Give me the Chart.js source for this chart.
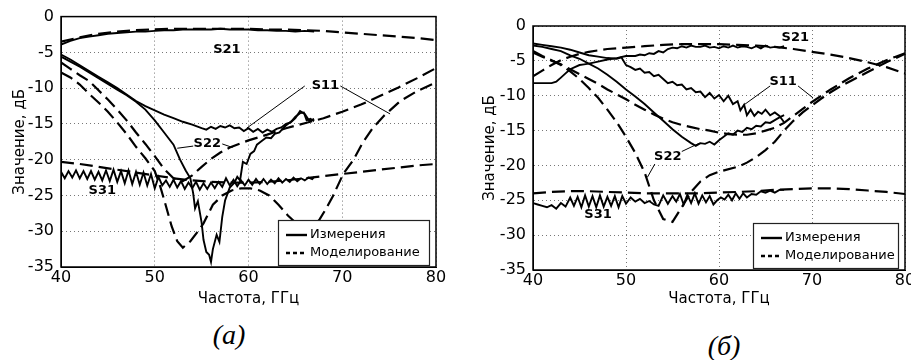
<!DOCTYPE html>
<html lang="ru">
<head>
<meta charset="utf-8" />
<script src="https://cdn.jsdelivr.net/npm/chart.js@4.4.0/dist/chart.umd.min.js"></script>
<title>S-параметры</title>
<style>
    html, body { margin: 0; padding: 0; overflow: hidden; background: #fff; }
    #hoja { position: relative; width: 911px; height: 360px; }
    canvas { position: absolute; top: 0; }
    #grafA { left: 0; }
    #grafB { left: 455px; }
    .pie { position: absolute; font-family: "Liberation Serif", serif; font-style: italic; font-size: 28px; transform: translate(-50%, -50%); }
</style>
</head>
<body>
<div id="hoja">
    <canvas id="grafA" width="455" height="310"></canvas>
    <canvas id="grafB" width="470" height="310"></canvas>
    <div class="pie" style="left:229px; top:335px">(а)</div>
    <div class="pie" style="left:724px; top:346px">(б)</div>
</div>
<script>
// ---------- datos, panel (а) ----------
const fA_S21med = [40,41,42,43,44,45,46,47,48,49,50,51,52,53,54,55,56,57,58,59,60,61,62,63,64,65,66,67];
const vA_S21med = [-3.9,-3.4,-3.0,-2.8,-2.6,-2.4,-2.3,-2.2,-2.1,-2.1,-2.0,-1.9,-1.9,-1.8,-1.8,-1.8,-1.8,-1.7,-1.8,-1.8,-1.8,-1.9,-1.9,-2.0,-2.0,-2.1,-2.0,-2.1];
const fA_S21mod = [40,42,44,46,48,50,52,55,58,60,62,64,66,68,70,72,74,76,78,80];
const vA_S21mod = [-3.5,-2.9,-2.4,-2.1,-1.9,-1.8,-1.7,-1.7,-1.7,-1.7,-1.8,-1.8,-1.9,-2.0,-2.2,-2.4,-2.6,-2.8,-3.0,-3.3];

const fA_S11med = [40,41,42,43,44,45,46,47,48,49,50,51,52,53,54,55,55.5,56,56.5,57,57.5,58,58.5,59,59.5,60,60.5,61,61.5,62,62.5,63,63.5,64,64.5,65,65.5,66,66.5,67];
const vA_S11med = [-5.3,-6.0,-6.8,-7.6,-8.4,-9.2,-10.0,-10.9,-11.8,-12.5,-13.1,-13.7,-14.2,-14.7,-15.1,-15.6,-15.8,-15.4,-15.7,-15.3,-15.5,-15.2,-15.6,-15.5,-16.0,-15.6,-16.1,-15.7,-16.2,-15.8,-16.1,-15.7,-15.5,-15.0,-14.8,-14.2,-13.2,-13.6,-14.6,-14.3];
const fA_S11mod = [40,41,42,43,44,45,46,47,48,49,50,50.6,51.2,51.8,52.4,53,53.8,54.5,55.2,56.2,57.2,58.2,59.2,60.2,61.2,62.2,63.2,64.2,65.2,66.2,67,67.6,68.3,69,70.1,71.2,72.2,73.3,74.5,76.2,78,80];
const vA_S11mod = [-7.8,-8.5,-9.5,-10.8,-12.0,-13.3,-14.8,-16.4,-18.2,-19.8,-21.6,-23.8,-26.5,-29.3,-31.4,-32.3,-31.4,-30.2,-28.9,-26.3,-25.0,-24.3,-24.0,-24.0,-24.3,-25.0,-26.3,-27.8,-29.0,-29.6,-29.3,-28.3,-26.8,-25.1,-22.0,-20.0,-17.6,-15.5,-13.8,-11.8,-10.4,-9.2];

const fA_S22med = [40,41,42,43,44,45,46,47,48,49,50,51,52,52.7,53.3,53.8,54.1,54.3,54.6,55,55.2,55.5,55.8,56,56.2,56.6,56.9,57.2,57.5,58,58.5,58.8,59.1,59.4,59.8,60.2,60.6,60.9,61.3,61.9,62.4,62.8,63.3,63.7,64.1,64.6,65,65.5,65.9,66.2,66.6,67];
const vA_S22med = [-5.6,-6.3,-7.0,-7.8,-8.6,-9.4,-10.2,-11.0,-11.9,-13.0,-14.5,-16.2,-17.9,-20.0,-21.5,-22.6,-24.7,-26.8,-25.8,-28.8,-31.2,-32.9,-33.3,-34.3,-32.5,-30.5,-31.5,-28.0,-25.7,-23.9,-23.2,-22.4,-22.9,-20.3,-20.6,-19.2,-18.8,-17.9,-17.5,-16.9,-17.0,-16.4,-16.2,-15.6,-15.1,-14.6,-14.0,-13.5,-13.4,-14.5,-14.3,-14.6];
const fA_S22mod = [40,41,42,43,44,45,46,47,48,49,50,51,52,53,54,55,56,57,58,60,62,64,66,68,70,72,74,76,78,80];
const vA_S22mod = [-6.4,-7.3,-8.2,-9.0,-10.3,-11.6,-13.0,-14.5,-16.2,-17.8,-19.5,-21.3,-22.6,-23.0,-22.2,-21.0,-19.9,-19.0,-18.3,-17.3,-16.5,-15.6,-14.9,-14.2,-13.3,-12.3,-11.1,-9.9,-8.6,-7.2];

const fA_S31med = [40,40.4,40.8,41.2,41.6,42,42.4,42.8,43.2,43.6,44,44.4,44.8,45.2,45.6,46,46.4,46.8,47.2,47.6,48,48.4,48.8,49.2,49.6,50,50.4,50.8,51.2,51.6,52,52.4,52.8,53.2,53.6,54,54.4,54.8,55.2,55.6,56,56.4,56.8,57.2,57.6,58,58.4,58.8,59.2,59.6,60,60.4,60.8,61.2,61.6,62,62.4,62.8,63.2,63.6,64,64.4,64.8,65.2,65.6,66,66.4,66.8,67];
const vA_S31med = [-21.7,-22.6,-21.6,-22.5,-21.5,-22.6,-21.6,-22.7,-21.6,-22.8,-21.7,-22.9,-21.5,-23.0,-21.4,-23.1,-21.6,-23.3,-21.5,-23.4,-21.7,-23.5,-21.8,-23.6,-22.0,-24.0,-22.4,-23.6,-22.9,-23.8,-22.8,-23.9,-23.0,-24.1,-23.2,-24.0,-23.1,-24.2,-23.3,-24.1,-23.2,-24.0,-23.1,-23.8,-22.6,-23.6,-22.8,-23.7,-22.9,-23.6,-22.8,-23.5,-22.7,-23.4,-22.7,-23.4,-22.8,-23.3,-22.6,-23.2,-22.7,-23.1,-22.5,-23.0,-22.6,-22.9,-22.5,-22.7,-22.4];
const fA_S31mod = [40,42,44,46,48,50,52,54,56,58,60,62,64,66,68,70,72,74,76,78,80];
const vA_S31mod = [-20.3,-20.6,-21.0,-21.4,-21.8,-22.2,-22.6,-22.9,-23.1,-23.2,-23.2,-23.1,-22.9,-22.6,-22.3,-22.0,-21.7,-21.4,-21.1,-20.8,-20.6];

// ---------- datos, panel (б) ----------
const fB_S21med = [40,41,42,42.5,43,43.5,44,44.5,45,45.5,46,47,48,49,50,51,51.5,52,52.5,53,53.5,54,54.5,55,55.5,56,56.5,57,57.5,58,58.5,59,59.5,60,60.5,61,61.5,62,62.5,63,63.5,64,64.5,65,65.5,66,66.5,67];
const vB_S21med = [-8.2,-8.2,-8.2,-8.0,-7.4,-6.8,-6.2,-5.9,-5.6,-5.5,-5.4,-5.1,-4.8,-4.6,-4.3,-4.3,-4.1,-4.2,-3.9,-4.0,-3.6,-3.8,-3.3,-3.1,-3.2,-2.9,-3.1,-2.8,-3.0,-3.0,-2.8,-3.1,-3.0,-3.2,-2.9,-3.1,-2.8,-3.1,-2.9,-3.0,-3.2,-2.9,-3.2,-2.8,-3.1,-3.0,-3.1,-2.9];
const fB_S21mod = [40,41,42,43,44,45,46,48,50,52,54,56,58,60,62,64,66,68,70,72,74,76,78,80];
const vB_S21mod = [-7.2,-6.4,-5.6,-4.9,-4.4,-4.0,-3.7,-3.3,-3.1,-2.9,-2.7,-2.6,-2.6,-2.6,-2.7,-2.8,-3.0,-3.3,-3.7,-4.1,-4.6,-5.2,-5.9,-6.8];

const fB_S11med = [40,41,42,43,44,45,46,47,48,49,49.5,50,50.5,51,51.5,52,52.5,53,53.5,54,54.5,55,55.5,56,56.5,57,57.5,58,58.5,59,59.5,60,60.5,61,61.5,62,62.3,62.7,63,63.4,63.8,64.2,64.6,65,65.5,66,66.5,67];
const vB_S11med = [-2.5,-2.7,-2.9,-3.1,-3.4,-3.8,-4.2,-4.4,-4.6,-4.7,-4.5,-5.6,-5.9,-6.3,-6.1,-6.7,-6.6,-7.2,-7.0,-7.6,-8.2,-8.0,-8.5,-8.4,-9.1,-8.9,-9.5,-9.4,-10.2,-9.6,-10.4,-9.9,-10.8,-10.0,-11.2,-10.8,-12.1,-11.3,-12.8,-12.0,-12.9,-12.3,-12.6,-12.0,-12.8,-12.4,-12.9,-13.8];
const fB_S11mod = [40,41,42,43,44,45,46,47,48,49,50,51,52,53,54,55,56,57,58,59,60,61,62,63,64,65,66,67,68,69,70,71,72,73,74,75,76,77,78,79,80];
const vB_S11mod = [-3.8,-4.4,-5.0,-5.5,-6.2,-6.9,-7.6,-8.3,-9.1,-9.8,-10.5,-11.3,-12.0,-12.7,-13.3,-13.8,-14.2,-14.5,-14.8,-15.0,-15.3,-15.5,-15.6,-15.6,-15.4,-15.0,-14.6,-13.9,-12.9,-11.9,-10.9,-10.0,-9.1,-8.3,-7.5,-6.8,-6.1,-5.5,-4.9,-4.4,-3.9];

const fB_S22med = [40,41,42,43,44,45,46,47,48,49,50,51,52,53,54,55,56,57,57.5,58,58.5,59,59.5,60,60.5,61,61.5,62,62.5,63,63.5,64,64.5,65,65.5,66,66.5,67];
const vB_S22med = [-2.8,-3.0,-3.3,-3.6,-4.2,-4.7,-5.4,-6.1,-7.0,-8.0,-9.1,-10.1,-11.2,-12.4,-13.6,-14.8,-15.9,-16.8,-17.2,-16.8,-16.9,-16.6,-17.0,-16.4,-15.9,-15.4,-15.6,-15.0,-15.2,-14.6,-14.8,-14.3,-14.4,-13.8,-13.9,-13.5,-13.1,-12.8];
const fB_S22mod = [40,41,42,43,44,45,46,47,48,49,50,51,52,53,54,55,56,57,58,59,60,62,63,64,65,66,67,68,69,70,71,72,73,74,75,76,77,78,79,80];
const vB_S22mod = [-3.6,-4.3,-4.9,-5.6,-6.5,-7.6,-8.9,-10.3,-12.0,-13.8,-15.9,-18.2,-21.0,-25.0,-27.7,-28.1,-26.0,-23.8,-22.3,-21.4,-20.9,-20.2,-19.6,-18.8,-17.8,-16.6,-15.0,-13.6,-12.4,-11.4,-10.4,-9.5,-8.7,-8.0,-7.3,-6.6,-5.9,-5.2,-4.6,-4.0];

const fB_S31med = [40,40.5,41,41.5,42,42.5,43,43.5,44,44.4,44.8,45.2,45.6,46,46.4,46.8,47.2,47.6,48,48.4,48.8,49.2,49.6,50,50.5,51,51.5,52,52.5,53,53.5,54,54.5,55,55.4,55.8,56.2,56.6,57,57.4,57.8,58.2,58.6,59,59.4,59.8,60.2,60.6,61,61.4,61.8,62.2,62.6,63,63.5,64,64.5,65,65.5,66,66.5,67];
const vB_S31med = [-25.4,-25.6,-25.8,-26.0,-25.7,-26.2,-25.4,-25.9,-24.6,-25.8,-24.5,-26.0,-24.3,-25.9,-24.4,-26.0,-24.3,-25.9,-24.5,-25.8,-24.4,-26.0,-24.4,-25.5,-24.6,-25.2,-24.8,-25.4,-25.1,-25.6,-25.8,-24.3,-25.5,-24.4,-25.2,-24.1,-25.6,-24.2,-25.4,-24.0,-25.5,-24.3,-25.3,-24.4,-25.6,-25.0,-24.6,-24.9,-24.2,-25.0,-24.0,-24.8,-24.0,-24.6,-24.1,-24.2,-23.7,-23.9,-23.6,-23.9,-23.5,-23.5];
const fB_S31mod = [40,42,44,46,48,50,52,54,56,58,60,62,64,66,68,70,72,74,76,78,80];
const vB_S31mod = [-24.0,-23.8,-23.7,-23.7,-23.8,-23.9,-24.0,-24.0,-24.0,-24.0,-23.9,-23.8,-23.7,-23.5,-23.4,-23.3,-23.3,-23.4,-23.6,-23.8,-24.1];

// etiquetas S.. (posicion en GHz / dB) y lineas guia
const etiquetas = ['S21', 'S11', 'S22', 'S31'];
const posA = [[57.7, -4.6], [68.2, -9.7], [55.6, -17.8], [44.4, -24.3]];
const guiasA = [[66.0, -9.7, 59.8, -15.6], [69.8, -9.7, 75.1, -13.6], [54.1, -18.1, 52.4, -18.4], [57.2, -17.8, 58.3, -18.3]];
const posB = [[68.2, -1.7], [66.9, -8.0], [54.5, -18.8], [47.0, -27.1]];
const guiasB = [[65.5, -8.6, 62.6, -11.4], [68.5, -8.6, 70.1, -10.3], [56.0, -18.0, 57.9, -16.8], [53.1, -19.8, 52.3, -21.7]];

const nombresLeyenda = ['Измерения', 'Моделирование'];
const ticksX = [40, 50, 60, 70, 80];
const ticksY = [-35, -30, -25, -20, -15, -10, -5, 0];

const fuente = 'DejaVu Sans';

// dibuja marco, leyenda y etiquetas encima de las curvas
const marco = {
    id: 'marco',
    afterDatasetsDraw(chart, args, op) {
        const ctx = chart.ctx;
        const a = chart.chartArea;
        const sx = chart.scales.x, sy = chart.scales.y;
        ctx.save();
        ctx.strokeStyle = '#000';
        ctx.lineWidth = 1;
        op.guias.forEach(g => {
            ctx.beginPath();
            ctx.moveTo(sx.getPixelForValue(g[0]), sy.getPixelForValue(g[1]));
            ctx.lineTo(sx.getPixelForValue(g[2]), sy.getPixelForValue(g[3]));
            ctx.stroke();
        });
        ctx.fillStyle = '#000';
        ctx.font = 'bold 13px "' + fuente + '"';
        ctx.textAlign = 'center';
        ctx.textBaseline = 'middle';
        etiquetas.forEach((t, i) => {
            ctx.fillText(t, sx.getPixelForValue(op.pos[i][0]), sy.getPixelForValue(op.pos[i][1]));
        });

        // leyenda
        const w = op.anchoLeyenda, h = 45;
        const bx = a.right - 7 - w, by = a.bottom - 2 - h;
        ctx.fillStyle = '#fff';
        ctx.fillRect(bx, by, w, h);
        ctx.strokeStyle = '#222';
        ctx.lineWidth = 1.2;
        ctx.strokeRect(bx + 0.5, by + 0.5, w, h);
        const filas = [by + 15, by + 33];
        ctx.lineWidth = 2.4;
        ctx.strokeStyle = '#000';
        filas.forEach((yy, i) => {
            ctx.setLineDash(i === 0 ? [] : [4, 3]);
            ctx.beginPath();
            ctx.moveTo(bx + 8, yy);
            ctx.lineTo(bx + 29, yy);
            ctx.stroke();
        });
        ctx.setLineDash([]);
        ctx.fillStyle = '#000';
        ctx.font = '13px "' + fuente + '"';
        ctx.textAlign = 'left';
        nombresLeyenda.forEach((t, i) => ctx.fillText(t, bx + 32, filas[i]));

        // marco del area
        ctx.lineWidth = 1.5;
        ctx.strokeStyle = '#000';
        ctx.strokeRect(a.left, a.top, a.width, a.height);
        ctx.restore();
    }
};

function serie(f, v, modelo) {
    return {
        data: f.map((x, i) => ({x: x, y: v[i]})),
        borderColor: '#000',
        borderWidth: modelo ? 2.2 : 1.9,
        borderDash: modelo ? [13, 6] : [],
        pointRadius: 0,
        fill: false,
        tension: 0
    };
}

function grafico(id, series, cfg) {
    const fontTicks = {family: fuente, size: 16};
    const fontTitulo = {family: fuente, size: 15};
    return new Chart(document.getElementById(id).getContext('2d'), {
        type: 'line',
        data: {datasets: series},
        plugins: [marco],
        options: {
            responsive: false,
            animation: false,
            layout: {padding: {top: cfg.arriba, right: cfg.derecha, left: 0, bottom: 0}},
            plugins: {
                legend: {display: false},
                tooltip: {enabled: false},
                marco: {pos: cfg.pos, guias: cfg.guias, anchoLeyenda: cfg.anchoLeyenda}
            },
            scales: {
                x: {
                    type: 'linear', min: 40, max: 80,
                    afterFit: s => { s.height = cfg.altoX; },
                    afterBuildTicks: s => { s.ticks = ticksX.map(t => ({value: t})); },
                    ticks: {color: '#000', font: fontTicks, padding: 1, maxRotation: 0},
                    grid: {color: '#777', drawTicks: false, lineWidth: 1},
                    border: {display: true, color: '#000', dash: [1, 3]},
                    title: {display: true, text: 'Частота, ГГц', color: '#000', font: fontTitulo, padding: {top: 0, bottom: 2}}
                },
                y: {
                    type: 'linear', min: -35, max: 0,
                    afterFit: s => { s.width = cfg.anchoY; },
                    afterBuildTicks: s => { s.ticks = ticksY.map(t => ({value: t})); },
                    ticks: {color: '#000', font: fontTicks, padding: 7},
                    grid: {color: '#777', drawTicks: false, lineWidth: 1},
                    border: {display: true, color: '#000', dash: [1, 3]},
                    title: {display: true, text: 'Значение, дБ', color: '#000', font: fontTitulo, padding: {top: cfg.tituloY, bottom: 0}}
                }
            }
        }
    });
}

grafico('grafA', [
    serie(fA_S21mod, vA_S21mod, true),
    serie(fA_S11mod, vA_S11mod, true),
    serie(fA_S22mod, vA_S22mod, true),
    serie(fA_S31mod, vA_S31mod, true),
    serie(fA_S21med, vA_S21med, false),
    serie(fA_S11med, vA_S11med, false),
    serie(fA_S22med, vA_S22med, false),
    serie(fA_S31med, vA_S31med, false)
], {arriba: 15, derecha: 19, altoX: 43, anchoY: 61, tituloY: 11, pos: posA, guias: guiasA, anchoLeyenda: 151});

grafico('grafB', [
    serie(fB_S21mod, vB_S21mod, true),
    serie(fB_S11mod, vB_S11mod, true),
    serie(fB_S22mod, vB_S22mod, true),
    serie(fB_S31mod, vB_S31mod, true),
    serie(fB_S21med, vB_S21med, false),
    serie(fB_S11med, vB_S11med, false),
    serie(fB_S22med, vB_S22med, false),
    serie(fB_S31med, vB_S31med, false)
], {arriba: 26, derecha: 20, altoX: 40, anchoY: 78, tituloY: 26, pos: posB, guias: guiasB, anchoLeyenda: 145});
</script>
</body>
</html>
